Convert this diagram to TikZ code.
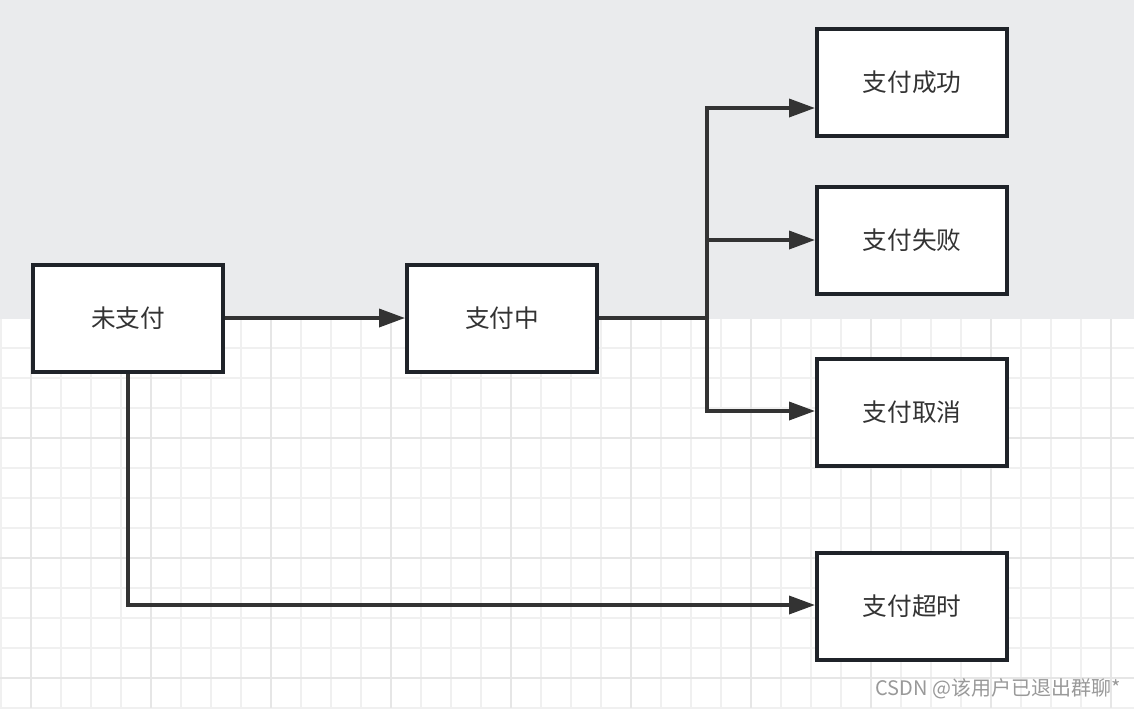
\documentclass[tikz,border=0pt]{standalone}
\usepackage{fontspec}
\newfontfamily\cjk{Noto Sans CJK SC}
\usetikzlibrary{arrows.meta,calc}
\definecolor{topgrey}{HTML}{EAEBED}
\definecolor{gridthin}{HTML}{F0F0F0}
\definecolor{gridthick}{HTML}{E6E6E6}
\definecolor{boxc}{HTML}{1F2329}
\definecolor{linec}{HTML}{333333}
\definecolor{txtc}{HTML}{333333}
\definecolor{wmc}{HTML}{999999}
\begin{document}
\begin{tikzpicture}[x=0.75pt,y=-0.75pt,
  gthin/.style={draw=gridthin,line width=1.5pt},
  gthick/.style={draw=gridthick,line width=2pt},
  box/.style={draw=boxc,line width=3pt,fill=white,minimum width=142.5pt,minimum height=80.25pt,inner sep=0pt,font=\cjk\fontsize{18.5pt}{20pt}\selectfont,text=txtc},
  conn/.style={draw=linec,line width=2.7pt,-{Triangle[length=19.5pt,width=13.5pt]}},
  plain/.style={draw=linec,line width=2.7pt}]
\useasboundingbox (0,0) rectangle (1134,708);
\fill[white] (0,0) rectangle (1134,708);
\foreach \x in {1,31,...,1111} \draw[gthin] (\x,318) -- (\x,708);
\foreach \y in {348,378,...,708} \draw[gthin] (0,\y) -- (1134,\y);
\foreach \x in {31,151,...,1111} \draw[gthick] (\x,318) -- (\x,708);
\foreach \y in {438,558,678} \draw[gthick] (0,\y) -- (1134,\y);
\fill[topgrey] (0,0) rectangle (1134,319);

\node[box] (a) at (128,318) {未支付};
\node[box] (b) at (502,318) {支付中};
\node[box] (s1) at (912,82) {支付成功};
\node[box] (s2) at (912,240) {支付失败};
\node[box] (s3) at (912,412) {支付取消};
\node[box] (s4) at (912,606) {支付超时};

\coordinate (j) at (707,318);
\draw[conn] (a.east) -- (b.west);
\draw[plain] (b.east) -- (j);
\draw[conn] (j) |- ($(s1.west)+(0,26)$);
\draw[conn] (j |- s2.west) -- (s2.west);
\draw[conn] (j) |- ($(s3.west)+(0,-1)$);
\draw[conn] (a.south) |- ($(s4.west)+(0,-1)$);

\node[anchor=east,text=wmc,font=\cjk\fontsize{15pt}{17pt}\selectfont,inner sep=0pt] (wm) at (1121,689) {CSDN @该用户已退出群聊*};
\end{tikzpicture}
\end{document}
